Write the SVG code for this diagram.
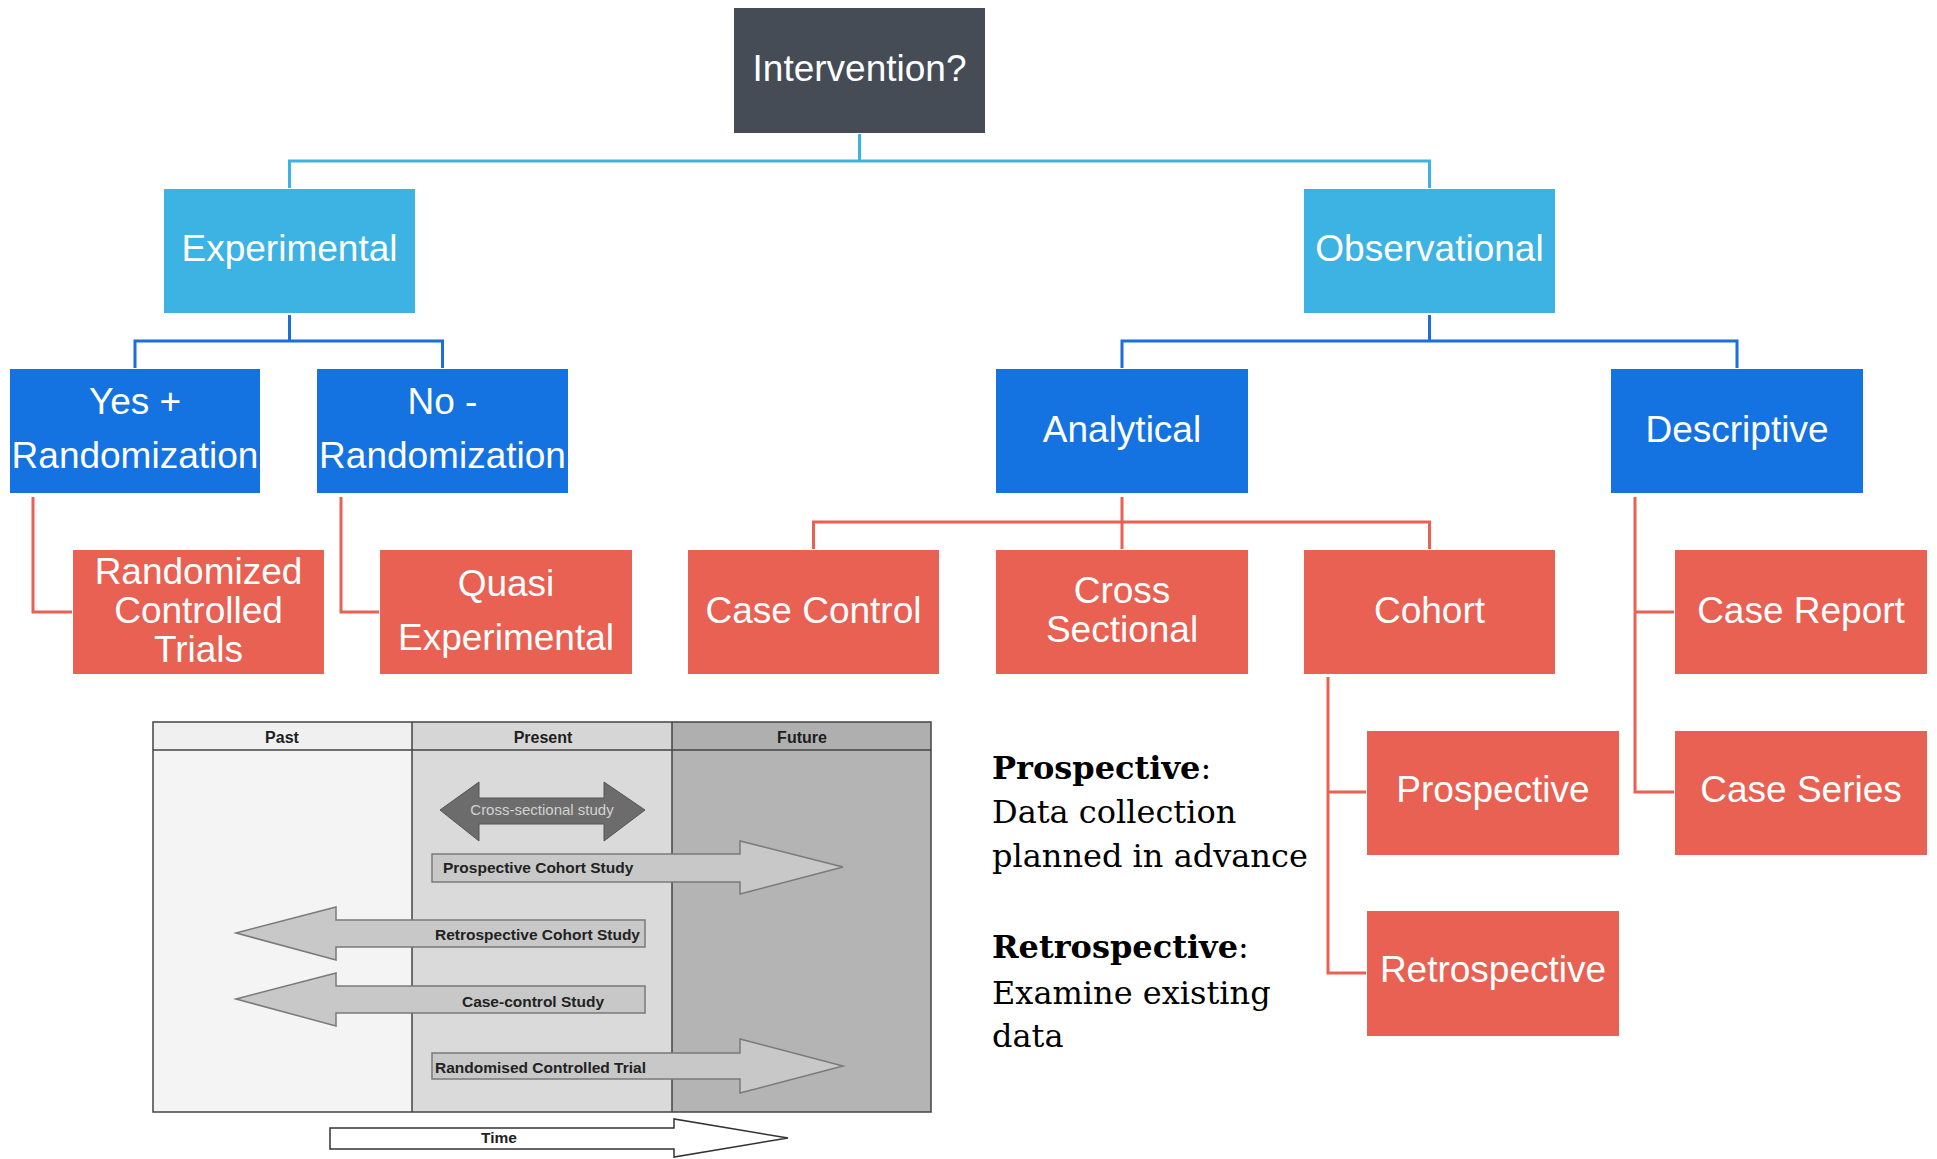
<svg xmlns="http://www.w3.org/2000/svg" width="1937" height="1159" viewBox="0 0 1937 1159">
<style>
  .t { font-family: "Liberation Sans", Arial, sans-serif; font-size: 37px; fill: #FFFFFF; text-anchor: middle; }
  .dark { fill: #464C55; }
  .lblue { fill: #3CB3E3; }
  .blue { fill: #1473E1; }
  .red { fill: #E86152; }
  .c { fill: none; stroke-width: 3; }
  .cl { stroke: #3CB3E3; }
  .cb { stroke: #1A6FD8; }
  .cr { stroke: #E86152; }
  .s { font-family: "DejaVu Serif", "Liberation Serif", serif; font-size: 32px; fill: #000000; }
  .h { font-family: "Liberation Sans", Arial, sans-serif; font-size: 16px; font-weight: bold; fill: #1E1E1E; text-anchor: middle; }
  .a { font-family: "Liberation Sans", Arial, sans-serif; font-size: 15.5px; font-weight: bold; fill: #222222; }
  .arr { fill: #C8C8C8; stroke: #7A7A7A; stroke-width: 1.5; }
  .col { stroke: #444444; stroke-width: 1.5; }
</style>

<g id="connectors">
  <path class="c cl" d="M859.5,134 V161 M289.5,188 V161 H1429.5 V188"/>
  <path class="c cb" d="M289.5,315 V341 M135,368 V341 H442.5 V368"/>
  <path class="c cb" d="M1429.5,315 V341 M1122,368 V341 H1737 V368"/>
  <path class="c cr" d="M33,497 V612 H72"/>
  <path class="c cr" d="M341,497 V612 H379"/>
  <path class="c cr" d="M1122,497 V549 M813.5,549 V522 H1429.5 V549"/>
  <path class="c cr" d="M1635,497 V792 H1674 M1635,612 H1674"/>
  <path class="c cr" d="M1328,677 V973 H1366 M1328,792 H1366"/>
</g>

<g id="intervention"><rect class="dark" x="734" y="8" width="251" height="125"/><text class="t" x="859.5" y="81">Intervention?</text></g>
<g id="experimental"><rect class="lblue" x="164" y="189" width="251" height="124"/><text class="t" x="289.5" y="261">Experimental</text></g>
<g id="observational"><rect class="lblue" x="1304" y="189" width="251" height="124"/><text class="t" x="1429.5" y="261">Observational</text></g>
<g id="yes-randomization"><rect class="blue" x="10" y="369" width="250" height="124"/><text class="t" x="135" y="414">Yes +</text><text class="t" x="135" y="468">Randomization</text></g>
<g id="no-randomization"><rect class="blue" x="317" y="369" width="251" height="124"/><text class="t" x="442.5" y="414">No -</text><text class="t" x="442.5" y="468">Randomization</text></g>
<g id="analytical"><rect class="blue" x="996" y="369" width="252" height="124"/><text class="t" x="1122" y="442">Analytical</text></g>
<g id="descriptive"><rect class="blue" x="1611" y="369" width="252" height="124"/><text class="t" x="1737" y="442">Descriptive</text></g>
<g id="rct"><rect class="red" x="73" y="550" width="251" height="124"/><text class="t" x="198.5" y="584">Randomized</text><text class="t" x="198.5" y="623">Controlled</text><text class="t" x="198.5" y="662">Trials</text></g>
<g id="quasi"><rect class="red" x="380" y="550" width="252" height="124"/><text class="t" x="506" y="596">Quasi</text><text class="t" x="506" y="650">Experimental</text></g>
<g id="case-control"><rect class="red" x="688" y="550" width="251" height="124"/><text class="t" x="813.5" y="623">Case Control</text></g>
<g id="cross-sectional"><rect class="red" x="996" y="550" width="252" height="124"/><text class="t" x="1122" y="603">Cross</text><text class="t" x="1122" y="642">Sectional</text></g>
<g id="cohort"><rect class="red" x="1304" y="550" width="251" height="124"/><text class="t" x="1429.5" y="623">Cohort</text></g>
<g id="case-report"><rect class="red" x="1675" y="550" width="252" height="124"/><text class="t" x="1801" y="623">Case Report</text></g>
<g id="prospective"><rect class="red" x="1367" y="731" width="252" height="124"/><text class="t" x="1493" y="802">Prospective</text></g>
<g id="retrospective"><rect class="red" x="1367" y="911" width="252" height="125"/><text class="t" x="1493" y="982">Retrospective</text></g>
<g id="case-series"><rect class="red" x="1675" y="731" width="252" height="124"/><text class="t" x="1801" y="802">Case Series</text></g>

<g id="notes">
  <text class="s" x="992" y="779"><tspan font-weight="bold">Prospective</tspan>:</text>
  <text class="s" x="992" y="823">Data collection</text>
  <text class="s" x="992" y="867">planned in advance</text>
  <text class="s" x="992" y="958"><tspan font-weight="bold">Retrospective</tspan>:</text>
  <text class="s" x="992" y="1004">Examine existing</text>
  <text class="s" x="992" y="1047">data</text>
</g>

<g id="timeline">
  <rect x="153" y="722" width="259" height="390" fill="#F4F4F4"/>
  <rect x="412" y="722" width="260" height="390" fill="#DADADA"/>
  <rect x="672" y="722" width="259" height="390" fill="#B4B4B4"/>
  <rect x="153" y="722" width="259" height="28" fill="#F0F0F0"/>
  <rect x="412" y="722" width="260" height="28" fill="#D6D6D6"/>
  <rect x="672" y="722" width="259" height="28" fill="#AFAFAF"/>
  <rect x="153" y="722" width="778" height="390" fill="none" class="col"/>
  <path class="col" d="M153,750 H931 M412,722 V1112 M672,722 V1112"/>
  <text class="h" x="282" y="743">Past</text>
  <text class="h" x="543" y="743">Present</text>
  <text class="h" x="802" y="743">Future</text>

  <polygon points="440,810 479,782 479,798 604,798 604,782 645,810 604,841 604,824 479,824 479,841" fill="#6C6C6C" stroke="#555555" stroke-width="1"/>
  <text x="542" y="815" font-family="Liberation Sans, Arial, sans-serif" font-size="15px" fill="#D2D2D2" text-anchor="middle">Cross-sectional study</text>

  <polygon class="arr" points="432,854 740,854 740,841 843,867 740,894 740,882 432,882"/>
  <text class="a" x="443" y="873">Prospective Cohort Study</text>

  <polygon class="arr" points="236,933 336,907 336,920 645,920 645,947 336,947 336,960"/>
  <text class="a" x="640" y="940" text-anchor="end">Retrospective Cohort Study</text>

  <polygon class="arr" points="236,999 336,973 336,986 645,986 645,1013 336,1013 336,1026"/>
  <text class="a" x="533" y="1007" text-anchor="middle">Case-control Study</text>

  <polygon class="arr" points="432,1053 740,1053 740,1039 843,1066 740,1093 740,1079 432,1079"/>
  <text class="a" x="435" y="1073">Randomised Controlled Trial</text>

  <polygon points="330,1128 674,1128 674,1119 788,1138 674,1157 674,1149 330,1149" fill="#FFFFFF" stroke="#333333" stroke-width="1.5"/>
  <text class="a" x="499" y="1143" text-anchor="middle" font-size="14px">Time</text>
</g>
</svg>
